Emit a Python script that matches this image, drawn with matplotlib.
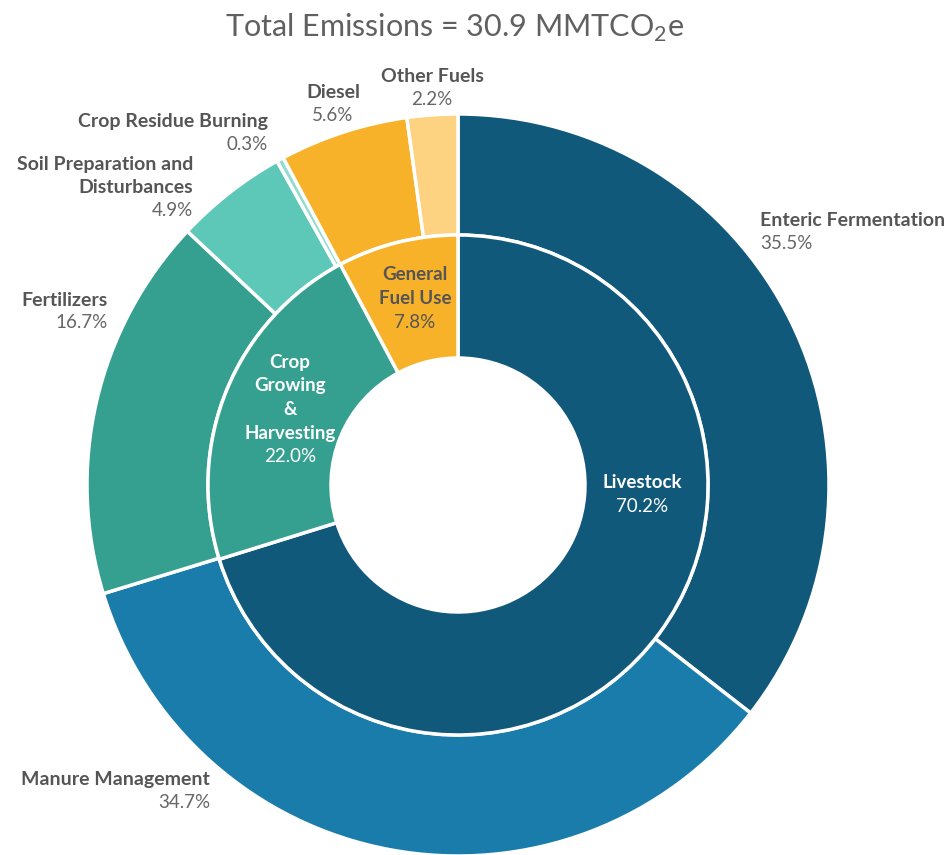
import matplotlib
matplotlib.use('Agg')
import matplotlib.pyplot as plt

plt.rcParams['font.family'] = ['Lato', 'DejaVu Sans']
plt.rcParams['mathtext.fontset'] = 'custom'
plt.rcParams['mathtext.rm'] = 'Lato'

# data
inner_labels = ['Livestock', 'Crop\nGrowing\n&\nHarvesting', 'General\nFuel Use']
inner_values = [70.2, 22.0, 7.8]
outer_labels = ['Enteric Fermentation', 'Manure Management', 'Fertilizers',
                'Soil Preparation and\nDisturbances', 'Crop Residue Burning',
                'Diesel', 'Other Fuels']
outer_values = [35.5, 34.7, 16.7, 4.9, 0.3, 5.6, 2.2]

# styles
inner_colors = ['#11597b', '#35a08f', '#f8b22a']
outer_colors = ['#11597b', '#1a7cab', '#35a08f', '#5ec8b8', '#92dcd2',
                '#f8b22a', '#fdd281']
inner_text = ['white', 'white', '#555555']

# label anchors: (x, y of pct line) in px relative to centre, alignment
outer_pos = [(302, 241, 'left'), (-248, -318, 'right'), (-350, 162, 'right'),
             (-265, 274, 'right'), (-190, 340, 'right'),
             (-125, 369, 'center'), (-26, 385, 'center')]
inner_pos = [(184, -21), (-168, 28), (-43, 163)]

fig = plt.figure(figsize=(9.5, 8.55), dpi=100)
ax = fig.add_axes([0, 0, 1, 1])

R_OUT, R_MID, R_IN = 371, 250, 127
ax.pie(outer_values, radius=R_OUT, startangle=90, counterclock=False,
       colors=outer_colors,
       wedgeprops=dict(width=R_OUT - R_MID, edgecolor='white', linewidth=2.5))
ax.pie(inner_values, radius=R_MID, startangle=90, counterclock=False,
       colors=inner_colors,
       wedgeprops=dict(width=R_MID - R_IN, edgecolor='white', linewidth=2.5))

ax.set_xlim(-458, 492)
ax.set_ylim(-370, 485)
ax.set_aspect('equal')
ax.axis('off')

step = 23
for name, v, (x, y, ha) in zip(outer_labels, outer_values, outer_pos):
    ax.text(x, y, f'{v:.1f}%', ha=ha, va='center', fontsize=13.5, color='#666666')
    lines = name.split('\n')
    for i, ln in enumerate(lines):
        ax.text(x, y + step * (len(lines) - i), ln, ha=ha, va='center',
                fontsize=14, fontweight='bold', color='#555555')

for name, v, (x, y), c in zip(inner_labels, inner_values, inner_pos, inner_text):
    ax.text(x, y, f'{v:.1f}%', ha='center', va='center', fontsize=13.5, color=c)
    lines = name.split('\n')
    for i, ln in enumerate(lines):
        ax.text(x, y + 23.7 * (len(lines) - i), ln, ha='center', va='center',
                fontsize=13.5, fontweight='bold', color=c)

fig.text(455 / 950, 1 - 28 / 855, r'Total Emissions = 30.9 MMTCO$_2$e',
         ha='center', va='center', fontsize=22, color='#606060')

fig.savefig('out.png', dpi=100)
